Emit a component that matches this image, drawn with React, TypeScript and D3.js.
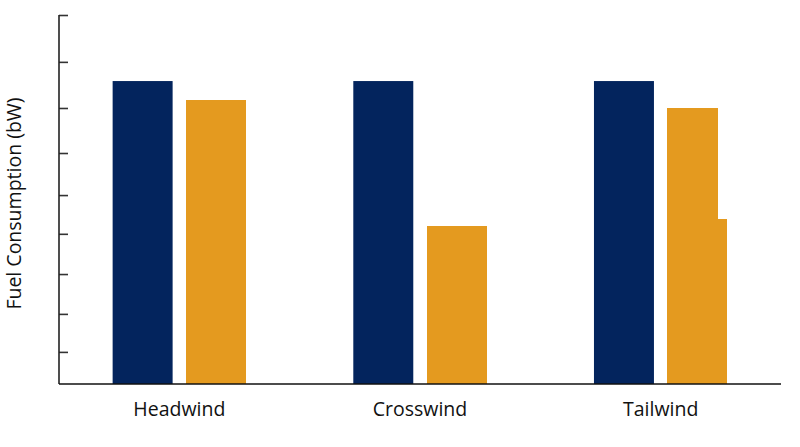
import { axisLeft, scaleBand, scaleLinear, select } from 'd3';
import React, { RefObject, useEffect, useRef } from 'react';

const categories = ['Headwind', 'Crosswind', 'Tailwind'];
const seriesNames = ['baseline', 'measured'];
const baselineValues = [8.21, 8.21, 8.21];
const measuredValues = [7.7, 4.28, 4.46];
// Tailwind's orange bar has a raised, narrower upper part
const tailwindUpper = 7.49;
const yTickValues = [0.87, 1.9, 2.98, 4.07, 5.12, 6.26, 7.48, 8.73, 10];

const NAVY = '#03245d';
const ORANGE = '#e49a1f';
const FONT = '"Open Sans", "Noto Sans", sans-serif';

const W = 800;
const H = 447;

export default function App() {
  const svgRef = useRef<SVGSVGElement>(null);

  useEffect(() => {
    renderChart(svgRef);
  }, []);

  return (
    <svg
      ref={svgRef}
      width={W}
      height={H}
      style={{ position: 'absolute', left: 0, top: 0, background: '#fff' }}
    />
  );
}

function renderChart(svgRef: RefObject<SVGSVGElement>) {
  const svg = select(svgRef.current);
  svg.selectAll('*').remove();

  const left = 59;
  const right = 781;
  const top = 15;
  const bottom = 384;

  const x = scaleBand().domain(categories).range([left, right]).padding(0);
  const groupWidth = 133.4;
  const x1 = scaleBand()
    .domain(seriesNames)
    .range([0, groupWidth])
    .paddingInner(0.183)
    .paddingOuter(0);
  const y = scaleLinear().domain([0, 10]).range([bottom, top]);

  const groupX = (c: string) => (x(c) ?? 0) + (x.bandwidth() - groupWidth) / 2;

  const rows = categories.map((c, i) => ({
    category: c,
    baseline: baselineValues[i],
    measured: measuredValues[i],
  }));

  svg
    .append('g')
    .selectAll('rect')
    .data(rows)
    .join('rect')
    .attr('x', d => groupX(d.category) + (x1('baseline') ?? 0))
    .attr('y', d => y(d.baseline))
    .attr('width', x1.bandwidth())
    .attr('height', d => bottom - y(d.baseline))
    .attr('fill', NAVY);

  const orange = svg.append('g').attr('shape-rendering', 'crispEdges');

  orange
    .selectAll('rect.measured')
    .data(rows)
    .join('rect')
    .attr('class', 'measured')
    .attr('x', d => groupX(d.category) + (x1('measured') ?? 0))
    .attr('y', d => y(d.measured))
    .attr('width', x1.bandwidth())
    .attr('height', d => bottom - y(d.measured))
    .attr('fill', ORANGE);

  orange
    .append('rect')
    .attr('x', groupX('Tailwind') + (x1('measured') ?? 0))
    .attr('y', y(tailwindUpper))
    .attr('width', x1.bandwidth() * 0.845)
    .attr('height', bottom - y(tailwindUpper))
    .attr('fill', ORANGE);

  // y axis, ticks pointing inward
  const yAxis = axisLeft(y).tickValues(yTickValues).tickSize(-9).tickFormat(() => '');
  const ya = svg
    .append('g')
    .attr('transform', `translate(${left},0)`)
    .call(yAxis);
  ya.select('.domain').remove();
  ya.selectAll('.tick line').attr('stroke', '#333').attr('stroke-width', 1.6);

  svg
    .append('line')
    .attr('x1', left)
    .attr('x2', left)
    .attr('y1', top)
    .attr('y2', bottom)
    .attr('stroke', '#222')
    .attr('stroke-width', 1.6);

  svg
    .append('line')
    .attr('x1', left)
    .attr('x2', right)
    .attr('y1', bottom)
    .attr('y2', bottom)
    .attr('stroke', '#111')
    .attr('stroke-width', 1.6);

  svg
    .append('g')
    .selectAll('text')
    .data(categories)
    .join('text')
    .attr('x', c => (x(c) ?? 0) + x.bandwidth() / 2)
    .attr('y', 416)
    .attr('text-anchor', 'middle')
    .style('font-family', FONT)
    .style('font-size', '19.5px')
    .style('fill', '#111')
    .text(c => c);

  svg
    .append('text')
    .attr('transform', `translate(21,${(top + bottom) / 2 + 4}) rotate(-90)`)
    .attr('text-anchor', 'middle')
    .style('font-family', FONT)
    .style('font-size', '19.5px')
    .style('fill', '#111')
    .text('Fuel Consumption (bW)');
}
